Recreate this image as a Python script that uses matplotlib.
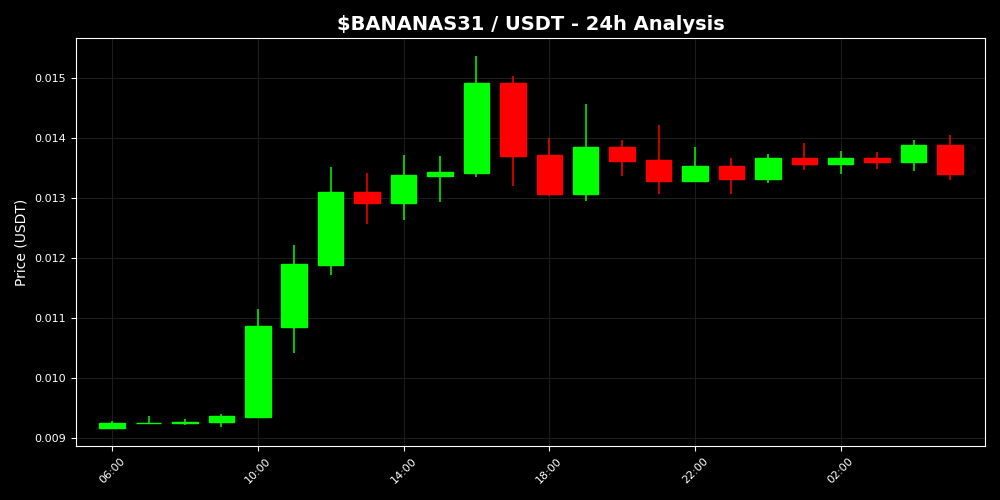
"""Hourly candlestick chart for $BANANAS31 / USDT."""

# -- Imports -----------------------------------------------------------------
from datetime import datetime, timedelta

import matplotlib
matplotlib.use('Agg')
import matplotlib.pyplot as plt
import matplotlib.dates as mdates
import numpy as np

# -- Data --------------------------------------------------------------------
start = datetime(2025, 1, 1, 6, 0)
times = [start + timedelta(hours=h) for h in range(24)]

opens = [0.009172, 0.009245, 0.009250, 0.009272, 0.009355, 0.010855,
         0.011883, 0.013105, 0.012922, 0.013367, 0.013422, 0.014922,
         0.013717, 0.013067, 0.013855, 0.013633, 0.013288, 0.013533,
         0.013317, 0.013667, 0.013572, 0.013672, 0.013600, 0.013883]
highs = [0.009278, 0.009367, 0.009322, 0.009395, 0.011145, 0.012212,
         0.013512, 0.013412, 0.013717, 0.013700, 0.015367, 0.015033,
         0.014005, 0.014567, 0.013967, 0.014217, 0.013850, 0.013662,
         0.013733, 0.013917, 0.013783, 0.013767, 0.013967, 0.014050]
lows = [0.009170, 0.009228, 0.009212, 0.009190, 0.009338, 0.010422,
        0.011717, 0.012567, 0.012633, 0.012938, 0.013345, 0.013205,
        0.013038, 0.012955, 0.013372, 0.013067, 0.013272, 0.013067,
        0.013255, 0.013467, 0.013405, 0.013483, 0.013450, 0.013300]
closes = [0.009255, 0.009255, 0.009262, 0.009372, 0.010872, 0.011900,
          0.013105, 0.012922, 0.013383, 0.013433, 0.014922, 0.013705,
          0.013067, 0.013855, 0.013622, 0.013288, 0.013533, 0.013317,
          0.013667, 0.013572, 0.013667, 0.013600, 0.013883, 0.013405]

# -- Figure ------------------------------------------------------------------
fig = plt.figure(figsize=(10, 5), dpi=100, facecolor='black')
ax = fig.add_axes([0.076, 0.108, 0.909, 0.816], facecolor='black')

x = mdates.date2num(times)
o = np.array(opens)
c = np.array(closes)
colors = np.where(c >= o, '#00ff00', '#ff0000')

# Wicks
ax.vlines(x, lows, highs, colors=colors, linewidth=1.1, zorder=2)
# Bodies (edge keeps the near-doji candles visible)
ax.bar(x, np.abs(c - o), bottom=np.minimum(o, c), width=0.7 / 24,
       color=colors, edgecolor=colors, linewidth=1.0, zorder=3)

# -- Axes styling ------------------------------------------------------------
ax.set_xlim(x[0] - 0.99 / 24, x[0] + 23.96 / 24)
ax.set_ylim(0.008867, 0.015667)

ax.xaxis.set_major_locator(mdates.HourLocator(byhour=range(2, 24, 4)))
ax.xaxis.set_major_formatter(mdates.DateFormatter('%H:%M'))
plt.setp(ax.get_xticklabels(), rotation=45, fontsize=8)
ax.tick_params(axis='y', labelsize=8)
ax.tick_params(colors='white')

for spine in ax.spines.values():
    spine.set_color('white')

ax.grid(True, color='#1c1c1c', linewidth=0.8)
ax.set_axisbelow(True)

ax.set_title(r'\$BANANAS31 / USDT - 24h Analysis', color='white',
             fontsize=14, fontweight='bold')
ax.set_ylabel('Price (USDT)', color='white', fontsize=10)

fig.savefig('out.png', dpi=100, facecolor='black')
